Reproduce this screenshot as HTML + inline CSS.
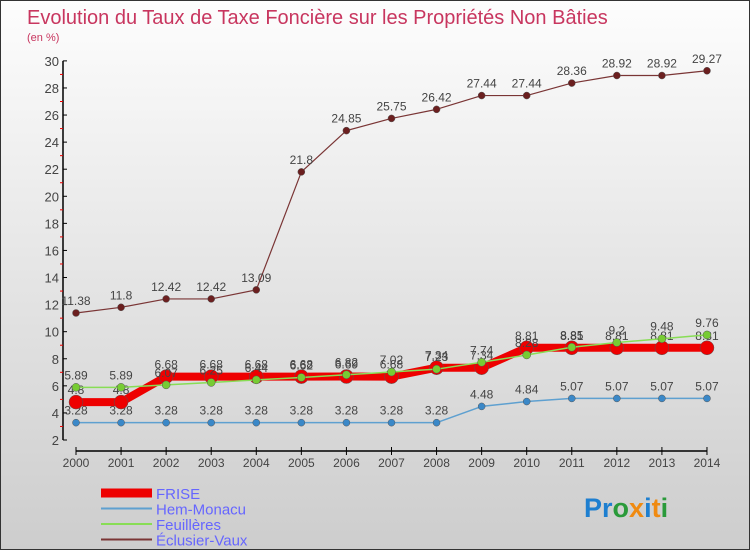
<!DOCTYPE html>
<html><head><meta charset="utf-8"><style>
body{margin:0}
#wrap{width:750px;height:550px;position:relative;overflow:hidden;box-sizing:border-box;border:1px solid #333;background:linear-gradient(#fdfdfd,#cdcdcd);font-family:"Liberation Sans",sans-serif}
svg{position:absolute;left:0;top:0}
</style></head><body>
<div id="wrap">
<svg id="chart" width="750" height="550">
<text x="26" y="23" font-size="20" fill="#c8365f">Evolution du Taux de Taxe Foncière sur les Propriétés Non Bâties</text>
<text x="26" y="40" font-size="11" fill="#c8365f">(en %)</text>
<g id="axes"></g><g id="series"></g><g id="legend"></g>
<text x="583" y="516" font-size="27" font-weight="bold"><tspan fill="#1e7fd0">Pr</tspan><tspan fill="#2a9a3a">o</tspan><tspan fill="#f08a10">x</tspan><tspan fill="#1e7fd0">i</tspan><tspan fill="#f08a10">t</tspan><tspan fill="#2a9a3a">i</tspan></text>
</svg></div>
<script>
const years=[2000,2001,2002,2003,2004,2005,2006,2007,2008,2009,2010,2011,2012,2013,2014];
const frise=[4.8,4.8,6.68,6.68,6.68,6.68,6.69,6.68,7.34,7.34,8.81,8.81,8.81,8.81,8.81];
const hem=[3.28,3.28,3.28,3.28,3.28,3.28,3.28,3.28,3.28,4.48,4.84,5.07,5.07,5.07,5.07];
const feu=[5.89,5.89,6.07,6.25,6.44,6.62,6.82,7.02,7.23,7.74,8.28,8.85,9.20,9.48,9.76];
const ecl=[11.38,11.8,12.42,12.42,13.09,21.8,24.85,25.75,26.42,27.44,27.44,28.36,28.92,28.92,29.27];
const yTicks=[2,4,6,8,10,12,14,16,18,20,22,24,26,28,30];
const NS="http://www.w3.org/2000/svg";
const X=i=>75+i*45.07, Y=v=>439-(v-2)*13.54;
function mk(t,a,p){const e=document.createElementNS(NS,t);for(const k in a)e.setAttribute(k,a[k]);p.appendChild(e);return e;}
const ax=document.getElementById('axes');
let e=mk('line',{x1:62,y1:Y(30),x2:62,y2:Y(2),stroke:'#000','stroke-width':1.5},ax);


e=mk('line',{x1:X(0),y1:450,x2:X(14),y2:450,stroke:'#000','stroke-width':1.5},ax);


yTicks.forEach(v=>{mk('line',{x1:62,y1:Y(v),x2:66,y2:Y(v),stroke:'#000'},ax);
 if(v<30)mk('line',{x1:59,y1:Y(v+1),x2:62,y2:Y(v+1),stroke:'#e00'},ax);
 const t=mk('text',{x:58,y:Y(v)+5,'text-anchor':'end','font-size':13,fill:'#444'},ax);t.textContent=v;
 
 });
years.forEach((yr,i)=>{mk('line',{x1:X(i),y1:446,x2:X(i),y2:454,stroke:'#000'},ax);
 const t=mk('text',{x:X(i),y:466,'text-anchor':'middle','font-size':12,fill:'#444'},ax);t.textContent=yr;
 
 });
const sg=document.getElementById('series');
function series(data,name,col,w,r,dot){
 const g=mk('g',{},sg);
 
 
 mk('polyline',{points:data.map((v,i)=>X(i)+','+Y(v)).join(' '),fill:'none',stroke:col,'stroke-width':w,'stroke-linejoin':'round'},g);
 data.forEach((v,i)=>{const c=mk('circle',{cx:X(i),cy:Y(v),r:r,fill:dot,stroke:'#555','stroke-width':0.5},g);
  
  
  const t=mk('text',{x:X(i),y:Y(v)-8,'text-anchor':'middle','font-size':12,fill:'#444'},g);t.textContent=String(v);
  
  });
}
series(ecl,'eclusier-vaux','#7a3535',1.2,3.5,'#6b1f1f');
series(hem,'hem-monacu','#5ea0d0',1.5,3.5,'#3a88c8');
series(frise,'frise','#ee0000',8,7,'#ee0000');
series(feu,'feuilleres','#88dd55',1.5,4,'#77cc33');
const lg=document.getElementById('legend');
[['FRISE','#ee0000',9],['Hem-Monacu','#5ea0d0',2],['Feuillères','#88dd55',2],['Éclusier-Vaux','#7a3535',2]].forEach((d,i)=>{
 const y=492+i*15.5;
 const l=mk('line',{x1:100,y1:y,x2:151,y2:y,stroke:d[1],'stroke-width':d[2]},lg);
 
 
 const t=mk('text',{x:155,y:y+6,'font-size':15,fill:'#6666ff'},lg);t.textContent=d[0];
 
 
});
</script></body></html>
